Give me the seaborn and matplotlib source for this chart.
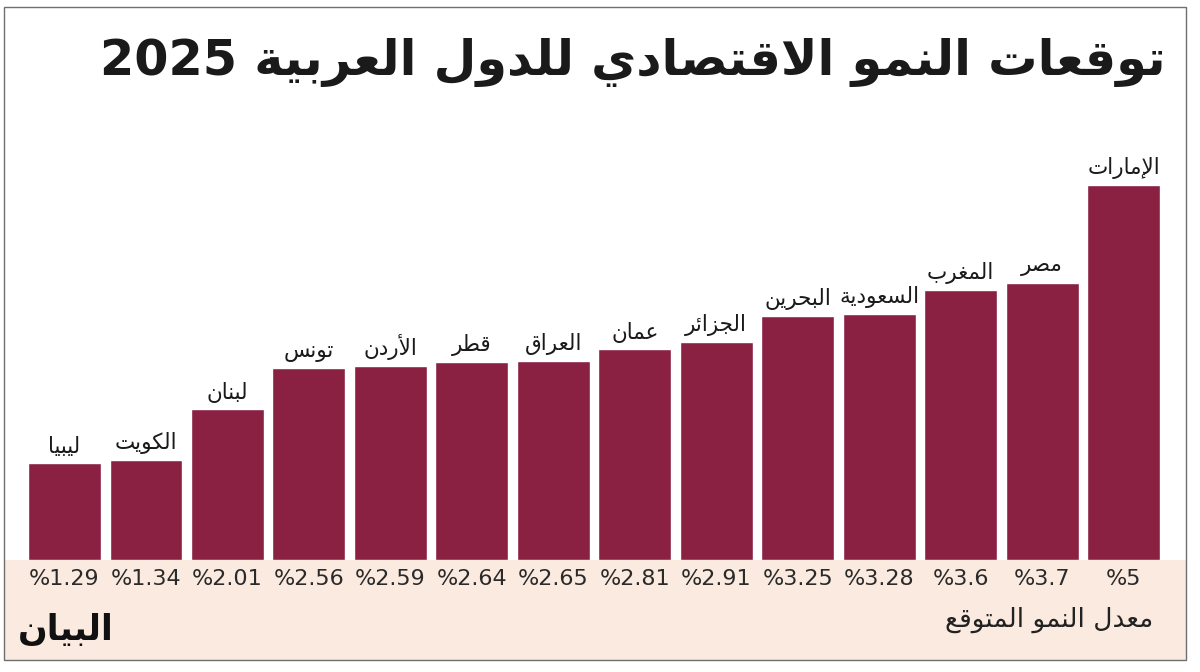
import re
import matplotlib
matplotlib.use("Agg")
import matplotlib.pyplot as plt
from matplotlib.patches import Rectangle
import seaborn as sns
import pandas as pd

# ---------------- data ----------------
countries = ["ليبيا", "الكويت", "لبنان", "تونس", "الأردن", "قطر", "العراق",
             "عمان", "الجزائر", "البحرين", "السعودية", "المغرب", "مصر", "الإمارات"]
growth = [1.29, 1.34, 2.01, 2.56, 2.59, 2.64, 2.65, 2.81, 2.91, 3.25, 3.28, 3.6, 3.7, 5]
value_labels = ["%1.29", "%1.34", "%2.01", "%2.56", "%2.59", "%2.64", "%2.65",
                "%2.81", "%2.91", "%3.25", "%3.28", "%3.6", "%3.7", "%5"]
title = "توقعات النمو الاقتصادي للدول العربية 2025"
footer = "معدل النمو المتوقع"
logo = "البيان"

# ------------- minimal Arabic shaping (presentation forms) -------------
FORMS = {  # isolated, final, initial, medial
    "ا": ("\uFE8D", "\uFE8E"), "أ": ("\uFE83", "\uFE84"), "إ": ("\uFE87", "\uFE88"),
    "آ": ("\uFE81", "\uFE82"), "د": ("\uFEA9", "\uFEAA"), "ذ": ("\uFEAB", "\uFEAC"),
    "ر": ("\uFEAD", "\uFEAE"), "ز": ("\uFEAF", "\uFEB0"), "و": ("\uFEED", "\uFEEE"),
    "ة": ("\uFE93", "\uFE94"),
    "ب": ("\uFE8F", "\uFE90", "\uFE91", "\uFE92"), "ت": ("\uFE95", "\uFE96", "\uFE97", "\uFE98"),
    "ج": ("\uFE9D", "\uFE9E", "\uFE9F", "\uFEA0"), "ح": ("\uFEA1", "\uFEA2", "\uFEA3", "\uFEA4"),
    "س": ("\uFEB1", "\uFEB2", "\uFEB3", "\uFEB4"), "ص": ("\uFEB9", "\uFEBA", "\uFEBB", "\uFEBC"),
    "ط": ("\uFEC1", "\uFEC2", "\uFEC3", "\uFEC4"), "ع": ("\uFEC9", "\uFECA", "\uFECB", "\uFECC"),
    "غ": ("\uFECD", "\uFECE", "\uFECF", "\uFED0"), "ق": ("\uFED5", "\uFED6", "\uFED7", "\uFED8"),
    "ك": ("\uFED9", "\uFEDA", "\uFEDB", "\uFEDC"), "ل": ("\uFEDD", "\uFEDE", "\uFEDF", "\uFEE0"),
    "م": ("\uFEE1", "\uFEE2", "\uFEE3", "\uFEE4"), "ن": ("\uFEE5", "\uFEE6", "\uFEE7", "\uFEE8"),
    "ه": ("\uFEE9", "\uFEEA", "\uFEEB", "\uFEEC"), "ي": ("\uFEF1", "\uFEF2", "\uFEF3", "\uFEF4"),
    "ئ": ("\uFE89", "\uFE8A", "\uFE8B", "\uFE8C"), "ى": ("\uFEEF", "\uFEF0"),
}
LAMALEF = {"ا": ("\uFEFB", "\uFEFC"), "أ": ("\uFEF7", "\uFEF8"),
           "إ": ("\uFEF9", "\uFEFA"), "آ": ("\uFEF5", "\uFEF6")}


def dual(c):
    return c in FORMS and len(FORMS[c]) == 4


def shape(text):
    out = []
    chars = list(text)
    i = 0
    while i < len(chars):
        c = chars[i]
        prev = chars[i - 1] if i > 0 else ""
        joins_prev = dual(prev) and not (out and out[-1] in "".join(v[0] + v[1] for v in LAMALEF.values()))
        if c == "ل" and i + 1 < len(chars) and chars[i + 1] in LAMALEF:
            out.append(LAMALEF[chars[i + 1]][1 if joins_prev else 0])
            i += 2
            continue
        if c in FORMS:
            nxt = chars[i + 1] if i + 1 < len(chars) else ""
            joins_next = dual(c) and nxt in FORMS
            f = FORMS[c]
            if joins_prev and joins_next:
                out.append(f[3])
            elif joins_prev:
                out.append(f[1])
            elif joins_next:
                out.append(f[2])
            else:
                out.append(f[0])
        else:
            out.append(c)
        i += 1
    vis = "".join(out)[::-1]
    return re.sub(r"[0-9A-Za-z.%]+", lambda m: m.group()[::-1], vis)


# ---------------- figure ----------------
sns.set_theme(style="white")
plt.rcParams["font.family"] = ["DejaVu Sans"]

BAR = "#8A2042"
BAND = "#FBEADF"

fig = plt.figure(figsize=(12, 6.72), dpi=100)
fig.patch.set_facecolor("white")

# peach band and outer frame (figure coordinates)
fig.patches.append(Rectangle((4 / 1200, 12 / 672), 1182 / 1200, 100 / 672,
                             transform=fig.transFigure, facecolor=BAND,
                             edgecolor="none", zorder=-1))
fig.patches.append(Rectangle((4 / 1200, 12 / 672), 1182 / 1200, 653 / 672,
                             transform=fig.transFigure, facecolor="none",
                             edgecolor="#6f6f6f", lw=1.0, zorder=5))

ax = fig.add_axes([23.8 / 1200, 112 / 672, 1140.5 / 1200, 525 / 672])
ax.set_facecolor("none")

df = pd.DataFrame({"country": countries, "growth": growth})
sns.barplot(data=df, x="country", y="growth", order=countries, color=BAR,
            saturation=1, width=0.896, ax=ax)
ax.set_ylim(0, 7)
ax.set_xlim(-0.5, len(countries) - 0.5)
ax.set_xlabel("")
ax.set_ylabel("")
ax.set_xticks([])
ax.set_yticks([])
for s in ax.spines.values():
    s.set_visible(False)

for i, (c, v, lab) in enumerate(zip(countries, growth, value_labels)):
    ax.annotate(shape(c), xy=(i, v), xytext=(0, 6), textcoords="offset pixels",
                ha="center", va="bottom", fontsize=15.5, color="#1a1a1a",
                annotation_clip=False)
    ax.annotate(lab, xy=(i, 0), xytext=(0, -19), textcoords="offset pixels",
                ha="center", va="center", fontsize=16, color="#2a2a2a",
                annotation_clip=False)

fig.text(1166 / 1200, 1 - 62 / 672, shape(title), ha="right", va="center",
         fontsize=35.5, fontweight="bold", color="#1a1a1a")
fig.text(1153 / 1200, 1 - 620 / 672, shape(footer), ha="right", va="center",
         fontsize=19, color="#222222")
fig.text(18 / 1200, 1 - 630 / 672, shape(logo), ha="left", va="center",
         fontsize=25, fontweight="bold", color="#111111")

fig.savefig("out.png", dpi=100, facecolor="white")
